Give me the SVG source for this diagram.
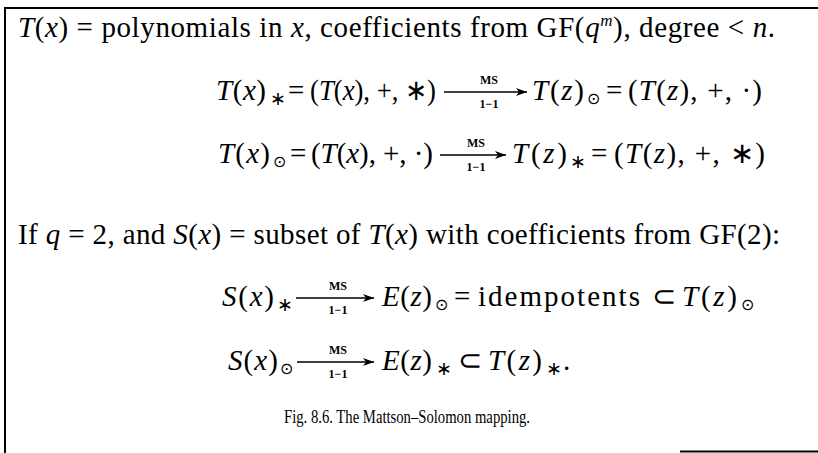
<svg xmlns="http://www.w3.org/2000/svg" width="818" height="453" viewBox="0 0 818 453">
<style>
text{font-family:"Liberation Serif","Times New Roman",serif;fill:#000}
.t{font-size:29px}
.i{font-style:italic}
.lab{font-size:12px;font-weight:bold;text-anchor:middle}
.st{font-size:19px}
.od{font-size:16px}
.cap{font-size:18px}
.arr{stroke:#000;stroke-width:1.6;fill:none}
</style>
<defs>
<marker id="ah" markerWidth="12" markerHeight="10" refX="11" refY="5" orient="auto" markerUnits="userSpaceOnUse">
<path d="M0,1 L11,5 L0,9 L3,5 Z" fill="#000"/>
</marker>
</defs>
<g id="frame">
<path d="M5,453 L5,8 L818,8" fill="none" stroke="#000" stroke-width="2"/>
<line x1="680" y1="451.5" x2="818" y2="451.5" stroke="#000" stroke-width="2"/>
</g>
<g id="line1">
<text class="t" x="18" y="37" textLength="757" lengthAdjust="spacing"><tspan class="i">T</tspan>(<tspan class="i">x</tspan>) = polynomials in <tspan class="i">x</tspan>, coefficients from GF(<tspan class="i">q</tspan><tspan class="i" font-size="17" dy="-11">m</tspan><tspan dy="11">), degree &lt; </tspan><tspan class="i">n</tspan>.</text>
</g>
<g id="line2">
<text class="t" x="216" y="100" textLength="50" lengthAdjust="spacing"><tspan class="i">T</tspan>(<tspan class="i">x</tspan>)</text>
<text class="st" x="270" y="105">∗</text>
<text class="t" x="288" y="100">=</text>
<text class="t" x="310" y="100" textLength="126" lengthAdjust="spacingAndGlyphs">(<tspan class="i">T</tspan>(<tspan class="i">x</tspan>), +, ∗)</text>
<text class="t" x="532" y="100" textLength="52" lengthAdjust="spacing"><tspan class="i">T</tspan>(<tspan class="i">z</tspan>)</text>
<text class="od" x="587" y="104">⊙</text>
<text class="t" x="606" y="100">=</text>
<text class="t" x="628" y="100" textLength="134" lengthAdjust="spacing">(<tspan class="i">T</tspan>(<tspan class="i">z</tspan>), +, ·)</text>
</g>
<g id="line3">
<text class="t" x="218" y="163" textLength="52" lengthAdjust="spacing"><tspan class="i">T</tspan>(<tspan class="i">x</tspan>)</text>
<text class="od" x="273" y="167">⊙</text>
<text class="t" x="290" y="163">=</text>
<text class="t" x="311" y="163" textLength="122" lengthAdjust="spacing">(<tspan class="i">T</tspan>(<tspan class="i">x</tspan>), +, ·)</text>
<text class="t" x="512" y="163" textLength="55" lengthAdjust="spacing"><tspan class="i">T</tspan>(<tspan class="i">z</tspan>)</text>
<text class="st" x="570" y="168">∗</text>
<text class="t" x="591" y="163">=</text>
<text class="t" x="614" y="163" textLength="151" lengthAdjust="spacing">(<tspan class="i">T</tspan>(<tspan class="i">z</tspan>), +, ∗)</text>
</g>
<g id="line4">
<text class="t" x="18" y="244" textLength="762" lengthAdjust="spacing">If <tspan class="i">q</tspan> = 2, and <tspan class="i">S</tspan>(<tspan class="i">x</tspan>) = subset of <tspan class="i">T</tspan>(<tspan class="i">x</tspan>) with coefficients from GF(2):</text>
</g>
<g id="line5">
<text class="t" x="222" y="306" textLength="52" lengthAdjust="spacing"><tspan class="i">S</tspan>(<tspan class="i">x</tspan>)</text>
<text class="st" x="277" y="311">∗</text>
<text class="t" x="382" y="306" textLength="50" lengthAdjust="spacing"><tspan class="i">E</tspan>(<tspan class="i">z</tspan>)</text>
<text class="od" x="435" y="310">⊙</text>
<text class="t" x="454" y="306">=</text>
<text class="t" x="478" y="306" textLength="162" lengthAdjust="spacing">idempotents</text>
<text class="t" x="652" y="306">⊂</text>
<text class="t" x="682" y="306" textLength="55" lengthAdjust="spacing"><tspan class="i">T</tspan>(<tspan class="i">z</tspan>)</text>
<text class="od" x="741" y="310">⊙</text>
</g>
<g id="line6">
<text class="t" x="228" y="370" textLength="50" lengthAdjust="spacing"><tspan class="i">S</tspan>(<tspan class="i">x</tspan>)</text>
<text class="od" x="280" y="374">⊙</text>
<text class="t" x="382" y="370" textLength="50" lengthAdjust="spacing"><tspan class="i">E</tspan>(<tspan class="i">z</tspan>)</text>
<text class="st" x="436" y="375">∗</text>
<text class="t" x="458" y="370">⊂</text>
<text class="t" x="488" y="370" textLength="54" lengthAdjust="spacing"><tspan class="i">T</tspan>(<tspan class="i">z</tspan>)</text>
<text class="st" x="546" y="375">∗</text>
<text class="t" x="563" y="370">.</text>
</g>
<g id="connectors">
<line class="arr" x1="444" y1="92" x2="527" y2="92" marker-end="url(#ah)"/>
<text class="lab" x="489" y="84">MS</text>
<text class="lab" x="489" y="108">1−1</text>
<line class="arr" x1="440" y1="155" x2="506" y2="155" marker-end="url(#ah)"/>
<text class="lab" x="476" y="147">MS</text>
<text class="lab" x="476" y="171">1−1</text>
<line class="arr" x1="296" y1="298" x2="374" y2="298" marker-end="url(#ah)"/>
<text class="lab" x="338" y="290">MS</text>
<text class="lab" x="338" y="314">1−1</text>
<line class="arr" x1="297" y1="362" x2="374" y2="362" marker-end="url(#ah)"/>
<text class="lab" x="338" y="354">MS</text>
<text class="lab" x="338" y="378">1−1</text>
</g>
<g id="caption">
<text class="cap" x="284" y="423" textLength="246" lengthAdjust="spacingAndGlyphs">Fig. 8.6. The Mattson–Solomon mapping.</text>
</g>
</svg>
